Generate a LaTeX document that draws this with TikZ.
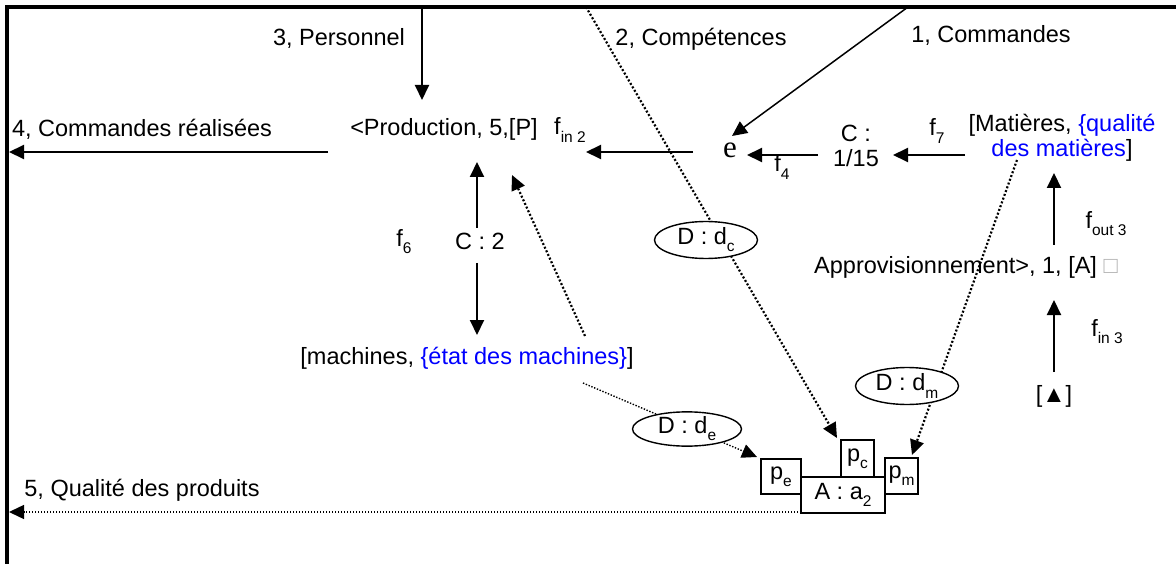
\documentclass[tikz,border=0pt]{standalone}
\usepackage{fontspec}
\setmainfont{Liberation Sans}
\newfontfamily\serifont{Liberation Serif}
\usetikzlibrary{arrows.meta,shapes.geometric}
\definecolor{qblue}{RGB}{0,0,255}
\newcommand{\sbs}[1]{\raisebox{-0.3em}{\fontsize{15.5}{16}\selectfont #1}}
\begin{document}
\begin{tikzpicture}[x=1pt,y=-1pt,
  every node/.style={inner sep=0pt, font=\fontsize{23.5}{25}\selectfont},
  arr/.style={line width=2pt, -{Triangle[length=15pt,width=14pt]}},
  thinarr/.style={line width=1.5pt, -{Triangle[length=15pt,width=14pt]}},
  dotarr/.style={line width=2.2pt, dash pattern=on 2pt off 2pt, -{Triangle[length=15pt,width=14pt]}},
  fdotarr/.style={line width=1.4pt, dash pattern=on 1.4pt off 1.6pt, -{Triangle[length=15pt,width=14pt]}},
  dell/.style={ellipse, draw, line width=1.4pt, fill=white, minimum width=103pt, minimum height=37pt},
  pbox/.style={draw, line width=1.4pt, fill=white}
]
\useasboundingbox (0,0) rectangle (1176,564);
\fill[white] (0,0) rectangle (1176,564);
% frame
\draw[line width=3.5pt] (1176,7) -- (7,7) -- (7,564);

% texts
\node (pers) at (339,38) {3, Personnel};
\node (comp) at (701,39) {2, Comp\'etences};
\node (cmd) at (991,35) {1, Commandes};
\node (real) at (142,129) {4, Commandes r\'ealis\'ees};
\node (prod) at (444,129) {<Production, 5,[P]};
\node (fin2) at (570,130) {f\sbs{in 2}};
\node (e) at (730,150) {\fontsize{31}{31}\selectfont\serifont e};
\node (f4) at (782,167) {f\sbs{4}};
\node[align=center] (c115) at (856,146) {C :\\1/15};
\node (f7) at (937,131) {f\sbs{7}};
\node[align=center] (mat) at (1062,138) {[Mati\`eres, \textcolor{qblue}{\{qualit\'e}\\\textcolor{qblue}{des mati\`eres}]};
\node (fout3) at (1106,224) {f\sbs{out 3}};
\node (appro) at (966,267) {Approvisionnement>, 1, [A] \textcolor{gray!60}{□}};
\node (fin3) at (1107,332) {f\sbs{in 3}};
\node (tri) at (1054,396) {[▲]};
\node (c2) at (480,241) {C : 2};
\node (f6) at (404,242) {f\sbs{6}};
\node (mach) at (467,358) {[machines, \textcolor{qblue}{\{\'etat des machines\}}]};
\node (qual) at (142,490) {5, Qualit\'e des produits};

% boxes
\node[pbox, minimum width=40pt, minimum height=35pt] (pe) at (781,476.5) {p\sbs{e}};
\node[pbox, minimum width=33pt, minimum height=37pt] (pc) at (857.5,458.5) {p\sbs{c}};
\node[pbox, minimum width=84pt, minimum height=36pt] (A) at (843,495) {A : a\sbs{2}};
\node[pbox, minimum width=33pt, minimum height=36pt] (pm) at (901.5,476) {p\sbs{m}};

% coordinates
\coordinate (persTop) at (422,7);
\coordinate (prodTop) at (422,100);
\coordinate (cmdTop) at (908,7);
\coordinate (eTip) at (732,136);
\coordinate (compTop) at (586,7);
\coordinate (pcTip) at (837,438);
\coordinate (realS) at (328,152);
\coordinate (realT) at (9,152);
\coordinate (eW) at (693,152);
\coordinate (prodE) at (586,152);
\coordinate (cW) at (818,155);
\coordinate (eE) at (747,155);
\coordinate (matW) at (965,155);
\coordinate (cE) at (893,155);
\coordinate (fo3S) at (1054,245);
\coordinate (matS) at (1054,173);
\coordinate (fi3S) at (1054,372);
\coordinate (appS) at (1054,300);
\coordinate (c2N) at (477,228);
\coordinate (prodS) at (477,162);
\coordinate (c2S) at (477,263);
\coordinate (machN) at (477,335);
\coordinate (machNE) at (585,336);
\coordinate (prodSE) at (512,175);
\coordinate (matDot) at (1017,160);
\coordinate (pmTip) at (912,455);
\coordinate (machE) at (583,383);
\coordinate (peTip) at (757,457);
\coordinate (aW) at (801,512);
\coordinate (qualT) at (9,512);

% connectors
\draw[arr] (persTop) -- (prodTop);
\draw[thinarr] (cmdTop) -- (eTip);
\draw[dotarr] (compTop) -- (pcTip);
\draw[arr] (realS) -- (realT);
\draw[arr] (eW) -- (prodE);
\draw[arr] (cW) -- (eE);
\draw[arr] (matW) -- (cE);
\draw[arr] (fo3S) -- (matS);
\draw[arr] (fi3S) -- (appS);
\draw[arr] (c2N) -- (prodS);
\draw[arr] (c2S) -- (machN);
\draw[dotarr] (machNE) -- (prodSE);
\draw[dotarr] (matDot) -- (pmTip);
\draw[fdotarr] (machE) -- (peTip);
\draw[fdotarr] (aW) -- (qualT);

% ellipses
\node[dell] (dc) at (706,240) {D : d\sbs{c}};
\node[dell] (dm) at (907,386) {D : d\sbs{m}};
\node[dell, minimum width=109pt, minimum height=33pt] (de) at (687,429) {D : d\sbs{e}};
\end{tikzpicture}
\end{document}
